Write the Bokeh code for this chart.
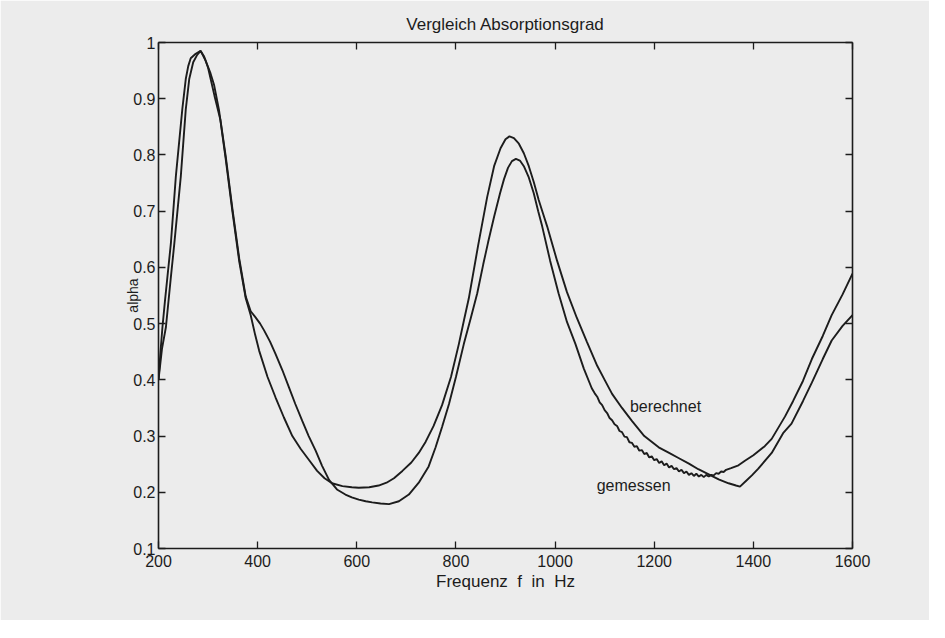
from bokeh.plotting import figure
from bokeh.models import LinearAxis, FixedTicker, Label, Range1d
from bokeh.embed import file_html
from bokeh.resources import INLINE

# ---------------- data ----------------
x_ticks = [200, 400, 600, 800, 1000, 1200, 1400, 1600]
y_ticks = [0.1, 0.2, 0.3, 0.4, 0.5, 0.6, 0.7, 0.8, 0.9, 1.0]
y_tick_labels = ["0.1", "0.2", "0.3", "0.4", "0.5", "0.6", "0.7", "0.8", "0.9", "1"]

title_text = "Vergleich Absorptionsgrad"
x_label = "Frequenz\u00a0\u00a0f\u00a0\u00a0in\u00a0\u00a0Hz"
y_label = "alpha"

# gemessen (measured, noisy between ~1080 and 1345 Hz)
gem_f = [200, 207, 215, 225, 232, 245, 255, 262, 270, 278, 285, 292, 300, 313, 325, 336, 349,
         363, 376, 386, 395, 405, 413, 425, 436, 450, 463, 476, 490, 503, 517, 530, 544, 560,
         577, 590, 604, 618, 631, 648, 665, 685, 705, 725, 745, 759, 772, 786, 800, 816, 830,
         843, 855, 865, 877, 889, 897, 905, 913, 921, 929, 937, 947, 957, 966, 974, 990, 1007,
         1024, 1041, 1058, 1074,
         1080, 1085, 1090, 1095, 1100, 1105, 1110, 1115, 1120, 1125, 1130, 1135, 1140, 1145,
         1150, 1155, 1160, 1165, 1170, 1175, 1180, 1185, 1190, 1195, 1200, 1205, 1210, 1215,
         1220, 1225, 1230, 1235, 1240, 1245, 1250, 1255, 1260, 1265, 1270, 1275, 1280, 1285,
         1290, 1295, 1300, 1305, 1310, 1315, 1320, 1325, 1330, 1335, 1340, 1345,
         1355, 1370, 1383, 1400, 1423, 1437, 1464, 1480, 1500, 1518, 1540, 1558, 1580, 1600]
gem_a = [0.400, 0.455, 0.494, 0.583, 0.643, 0.762, 0.881, 0.935, 0.965, 0.978, 0.985, 0.975,
         0.955, 0.905, 0.862, 0.795, 0.705, 0.615, 0.548, 0.522, 0.512, 0.500, 0.488, 0.468,
         0.446, 0.417, 0.387, 0.357, 0.327, 0.300, 0.274, 0.247, 0.222, 0.205, 0.196, 0.191,
         0.187, 0.184, 0.182, 0.180, 0.179, 0.184, 0.196, 0.217, 0.246, 0.280, 0.316, 0.357,
         0.405, 0.464, 0.510, 0.554, 0.605, 0.645, 0.690, 0.732, 0.757, 0.777, 0.789, 0.793,
         0.790, 0.780, 0.760, 0.732, 0.700, 0.673, 0.612, 0.554, 0.503, 0.464, 0.420, 0.385,
         0.376, 0.370, 0.360, 0.355, 0.346, 0.341, 0.332, 0.328, 0.321, 0.318, 0.309, 0.307,
         0.299, 0.298, 0.289, 0.288, 0.281, 0.282, 0.274, 0.275, 0.268, 0.270, 0.262, 0.264,
         0.257, 0.259, 0.252, 0.255, 0.248, 0.251, 0.244, 0.247, 0.241, 0.243, 0.237, 0.240,
         0.234, 0.237, 0.231, 0.234, 0.229, 0.233, 0.228, 0.231, 0.227, 0.231, 0.228, 0.231,
         0.230, 0.234, 0.233, 0.237, 0.236, 0.240,
         0.243, 0.248, 0.256, 0.266, 0.282, 0.295, 0.335, 0.362, 0.398, 0.437, 0.478, 0.515,
         0.552, 0.589]

# berechnet (calculated, smooth)
ber_f = [200, 204, 208, 213, 218, 225, 235, 248, 255, 260, 265, 275, 285, 295, 305, 312, 322,
         336, 349, 363, 376, 386, 395, 403, 420, 436, 453, 470, 487, 504, 520, 535, 550, 571,
         590, 604, 625, 644, 660, 675, 692, 710, 725, 739, 755, 772, 790, 806, 816, 826, 845,
         863, 877, 890, 900, 908, 917, 927, 937, 947, 957, 967, 976, 984, 1004, 1024, 1044,
         1064, 1085, 1100, 1115, 1135, 1155, 1180, 1209, 1230, 1249, 1270, 1289, 1310, 1330,
         1350, 1365, 1373, 1385, 1397, 1410, 1437, 1460, 1477, 1500, 1518, 1540, 1558, 1580,
         1600]
ber_a = [0.400, 0.450, 0.494, 0.540, 0.583, 0.643, 0.762, 0.881, 0.935, 0.958, 0.972, 0.980,
         0.985, 0.968, 0.945, 0.925, 0.880, 0.790, 0.700, 0.610, 0.545, 0.515, 0.480, 0.452,
         0.405, 0.369, 0.333, 0.300, 0.277, 0.257, 0.238, 0.225, 0.216, 0.211, 0.209, 0.208,
         0.209, 0.212, 0.217, 0.225, 0.238, 0.253, 0.270, 0.290, 0.318, 0.355, 0.405, 0.464,
         0.505, 0.545, 0.640, 0.725, 0.780, 0.812, 0.828, 0.833, 0.830, 0.820, 0.803, 0.780,
         0.752, 0.720, 0.695, 0.673, 0.612, 0.556, 0.510, 0.468, 0.425, 0.400, 0.375, 0.350,
         0.327, 0.300, 0.280, 0.270, 0.261, 0.251, 0.241, 0.232, 0.223, 0.216, 0.212, 0.210,
         0.220, 0.230, 0.242, 0.270, 0.305, 0.322, 0.362, 0.395, 0.437, 0.470, 0.496, 0.515]

label_ber = ("berechnet", 1151, 0.352)
label_gem = ("gemessen", 1084, 0.212)

# ---------------- figure ----------------
FONT = "Liberation Sans"
INK = "#1c1c1c"
PAPER = "#ececec"

p = figure(width=929, height=620, output_backend="svg", toolbar_location=None,
           x_range=Range1d(200, 1600), y_range=Range1d(0.1, 1.0),
           title=title_text,
           min_border_left=158, min_border_right=77, min_border_top=42, min_border_bottom=72)
p.background_fill_color = PAPER
p.border_fill_color = PAPER
p.outline_line_color = None
p.grid.visible = False

p.title.align = "center"
p.title.text_font = FONT
p.title.text_font_size = "17px"
p.title.text_font_style = "normal"
p.title.text_color = INK
p.title.standoff = 17


def style_axis(ax, show_labels):
    ax.axis_line_color = INK
    ax.axis_line_width = 1.6
    ax.major_tick_line_color = INK
    ax.major_tick_line_width = 1.3
    ax.major_tick_in = 7
    ax.major_tick_out = 0
    ax.minor_tick_line_color = None
    ax.major_label_text_font = FONT
    ax.major_label_text_font_size = "16px"
    ax.major_label_text_color = INK if show_labels else None
    ax.axis_label_text_font = FONT
    ax.axis_label_text_font_size = "17px"
    ax.axis_label_text_font_style = "normal"
    ax.axis_label_text_color = INK


p.xaxis.ticker = FixedTicker(ticks=x_ticks)
p.yaxis.ticker = FixedTicker(ticks=y_ticks)
p.yaxis.major_label_overrides = {t: s for t, s in zip(y_ticks, y_tick_labels)}
style_axis(p.xaxis[0], True)
style_axis(p.yaxis[0], True)
p.xaxis.axis_label = x_label
p.xaxis.major_label_standoff = 6
p.xaxis.axis_label_standoff = 2
p.yaxis.axis_label = y_label
p.yaxis.axis_label_text_font_size = "14px"
p.yaxis.major_label_standoff = 3
p.yaxis.axis_label_standoff = -11

top = LinearAxis(ticker=FixedTicker(ticks=x_ticks))
style_axis(top, False)
top.major_label_text_font_size = "1px"
top.major_label_standoff = 0
p.add_layout(top, "above")
right = LinearAxis(ticker=FixedTicker(ticks=y_ticks))
style_axis(right, False)
right.major_label_text_font_size = "1px"
p.add_layout(right, "right")

p.line(ber_f, ber_a, line_color=INK, line_width=1.9)
p.line(gem_f, gem_a, line_color=INK, line_width=1.9)

for txt, lx, ly in (label_ber, label_gem):
    p.add_layout(Label(x=lx, y=ly, text=txt, text_font=FONT, text_font_size="16px",
                       text_color=INK, text_baseline="middle", text_align="left"))

html = file_html(p, INLINE)
html = html.replace("<body>", '<body style="background-color:#ececec;">', 1)
open("out.html", "w").write(html)
